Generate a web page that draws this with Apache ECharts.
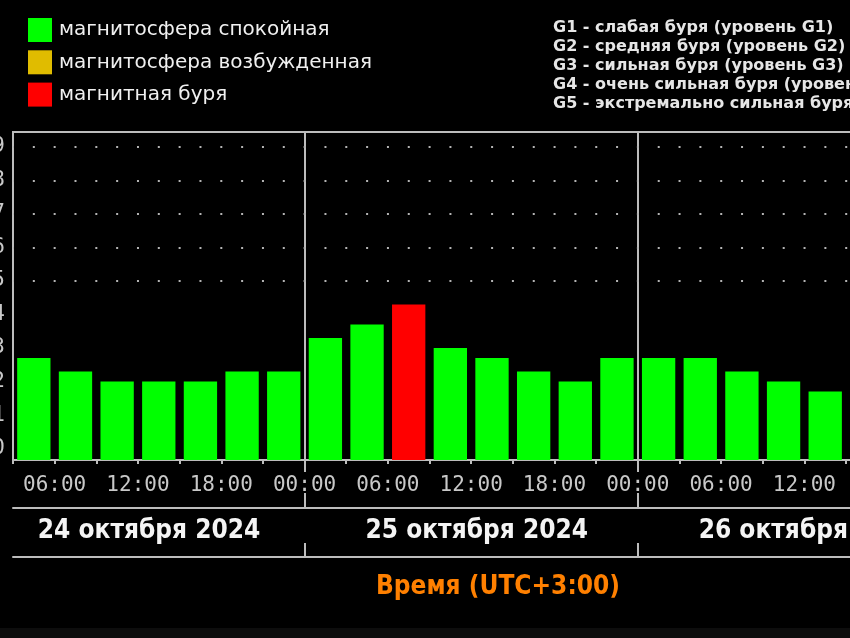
<!DOCTYPE html>
<html><head><meta charset="utf-8">
<script src="https://cdn.jsdelivr.net/npm/echarts@6/dist/echarts.min.js"></script>
<style>
html,body{margin:0;padding:0;background:#0d0d0d;overflow:hidden;width:850px;height:638px;}
#c{position:absolute;left:-60px;top:0;width:1100px;height:628px;background:#000;}
</style></head>
<body><div id="c"></div>
<script>
// Hours since 24 Oct 2024 00:00 (UTC+3) at the start of each 3-hour interval
const slotStartHours = [3,6,9,12,15,18,21, 24,27,30,33,36,39,42,45, 48,51,54,57,60];
const kpValues       = [2.7,2.3,2.0,2.0,2.0,2.3,2.3, 3.3,3.7,4.3,3.0,2.7,2.3,2.0,2.7, 2.7,2.7,2.3,2.0,1.7];
const kpState        = ['calm','calm','calm','calm','calm','calm','calm',
                        'calm','calm','storm','calm','calm','calm','calm','calm',
                        'calm','calm','calm','calm','calm'];
const stateNames = {calm:'магнитосфера спокойная', active:'магнитосфера возбужденная', storm:'магнитная буря'};
const stateColors = {calm:'#00ff00', active:'#e0bc00', storm:'#ff0000'};
const dayLabels = ['24 октября 2024','25 октября 2024','26 октября 2024'];
const dayLabelHours = [12.8, 36.4, 60.4];
const hourLabelTicks = [6,12,18,24,30,36,42,48,54,60,66];
const dayBoundaries = [24,48];
const yLabels = [0,1,2,3,4,5,6,7,8,9];
const dottedLevels = [5,6,7,8,9];
const gLegend = ['G1 - слабая буря (уровень G1)','G2 - средняя буря (уровень G2)','G3 - сильная буря (уровень G3)','G4 - очень сильная буря (уровень G4)','G5 - экстремально сильная буря (уровень G5)'];
const axisTitle = 'Время (UTC+3:00)';

const X_MIN = 3, X_MAX = 72, Y_MIN = -0.34, Y_MAX = 9.44, SLOT = 3, BAR_FRAC = 0.8;
const GRAY = '#bcbcbc';
const MONO = "'DejaVu Sans Mono', 'Liberation Mono', monospace";
const NARROW = "'Liberation Sans Narrow', 'DejaVu Sans Condensed', 'Open Sans', sans-serif";

function renderBar(params, api) {
  const t = api.value(0), v = api.value(1);
  const half = SLOT * BAR_FRAC / 2;
  const p0 = api.coord([t + SLOT/2 - half, v]);
  const p1 = api.coord([t + SLOT/2 + half, Y_MIN]);
  return {type:'rect', shape:{x:p0[0], y:p0[1], width:p1[0]-p0[0], height:p1[1]-p0[1]}, style:{fill: api.visual('color')}};
}

const states = ['calm','active','storm'];
const series = states.map((s, si) => ({
  type:'custom', name: stateNames[s], renderItem: renderBar, clip:true,
  itemStyle:{color: stateColors[s]},
  encode:{x:0, y:1},
  data: slotStartHours.map((h,i)=>[h, kpValues[i], kpState[i]]).filter(d=>d[2]===s).map(d=>[d[0], d[1]]),
  markLine: si === 0 ? {
    silent:true, symbol:'none', animation:false, label:{show:false},
    data: [
      ...dayBoundaries.map(b=>({xAxis:b, lineStyle:{color:GRAY, width:2, type:'solid'}})),
      ...dottedLevels.map(l=>({yAxis:l, lineStyle:{color:'#b4b4b4', width:2, type:[2, 18.83], dashOffset:1}}))
    ]
  } : undefined
}));

const chart = echarts.init(document.getElementById('c'), null, {renderer:'canvas'});
const baseX = {type:'value', min:X_MIN, max:X_MAX, gridIndex:0, splitLine:{show:false}};
chart.setOption({
  backgroundColor:'#000',
  animation:false,
  title:{text: gLegend.join('\n'), left: 613, top: 18.5, padding:0,
    textStyle:{color:'#e6e6e6', fontSize:16, fontWeight:'bold', fontFamily:"'DejaVu Sans', sans-serif", lineHeight:19}},
  legend:{orient:'vertical', left:88, top:18, padding:0, itemWidth:24, itemHeight:24, itemGap:8.3, selectedMode:false,
    data: states.map(s=>({name:stateNames[s], icon:'rect', itemStyle:{color:stateColors[s]}})),
    textStyle:{color:'#f0f0f0', fontSize:20, fontFamily:"'DejaVu Sans', sans-serif", padding:[0,0,0,2]}},
  grid:{left:73, width:958, top:132, height:328, show:true, borderColor:GRAY, borderWidth:2, backgroundColor:'#000'},
  xAxis:[
    Object.assign({}, baseX, {interval:SLOT, position:'bottom',
      axisLine:{show:true, onZero:false, lineStyle:{color:GRAY, width:2}},
      axisTick:{show:true, length:4, lineStyle:{color:GRAY, width:2}},
      axisLabel:{customValues:hourLabelTicks, margin:15, color:'#c8c8c8', fontSize:21, fontFamily:MONO,
        formatter:v=>String(v%24).padStart(2,'0')+':00'}}),
    Object.assign({}, baseX, {position:'bottom', offset:0,
      axisLine:{show:false, onZero:false},
      axisTick:{show:true, customValues:dayBoundaries, length:12, lineStyle:{color:GRAY, width:2}},
      axisLabel:{show:false}}),
    Object.assign({}, baseX, {position:'bottom', offset:48,
      axisLine:{show:true, onZero:false, lineStyle:{color:GRAY, width:2}},
      axisTick:{show:true, inside:true, customValues:dayBoundaries, length:15, lineStyle:{color:GRAY, width:2}},
      axisLabel:{show:false}}),
    Object.assign({}, baseX, {position:'bottom', offset:97,
      axisLine:{show:true, onZero:false, lineStyle:{color:GRAY, width:2}},
      axisTick:{show:true, inside:true, customValues:dayBoundaries, length:14, lineStyle:{color:GRAY, width:2}},
      axisLabel:{inside:true, margin:13, customValues:dayLabelHours, color:'#f4f4f4', fontSize:26, fontWeight:'bold', fontFamily:NARROW,
        formatter:v=>dayLabels[Math.floor(v/24)]},
      name:axisTitle, nameLocation:'middle', nameGap:17,
      nameTextStyle:{color:'#ff8000', fontSize:26, fontWeight:'bold', fontFamily:NARROW, padding:[0,0,0,12]}})
  ],
  yAxis:{type:'value', min:Y_MIN, max:Y_MAX, splitLine:{show:false},
    axisLine:{show:true, onZero:false, lineStyle:{color:GRAY, width:2}},
    axisTick:{show:false},
    axisLabel:{customValues:yLabels, margin:8, color:'#c8c8c8', fontSize:21, fontFamily:MONO}},
  series: series
});
</script></body></html>
